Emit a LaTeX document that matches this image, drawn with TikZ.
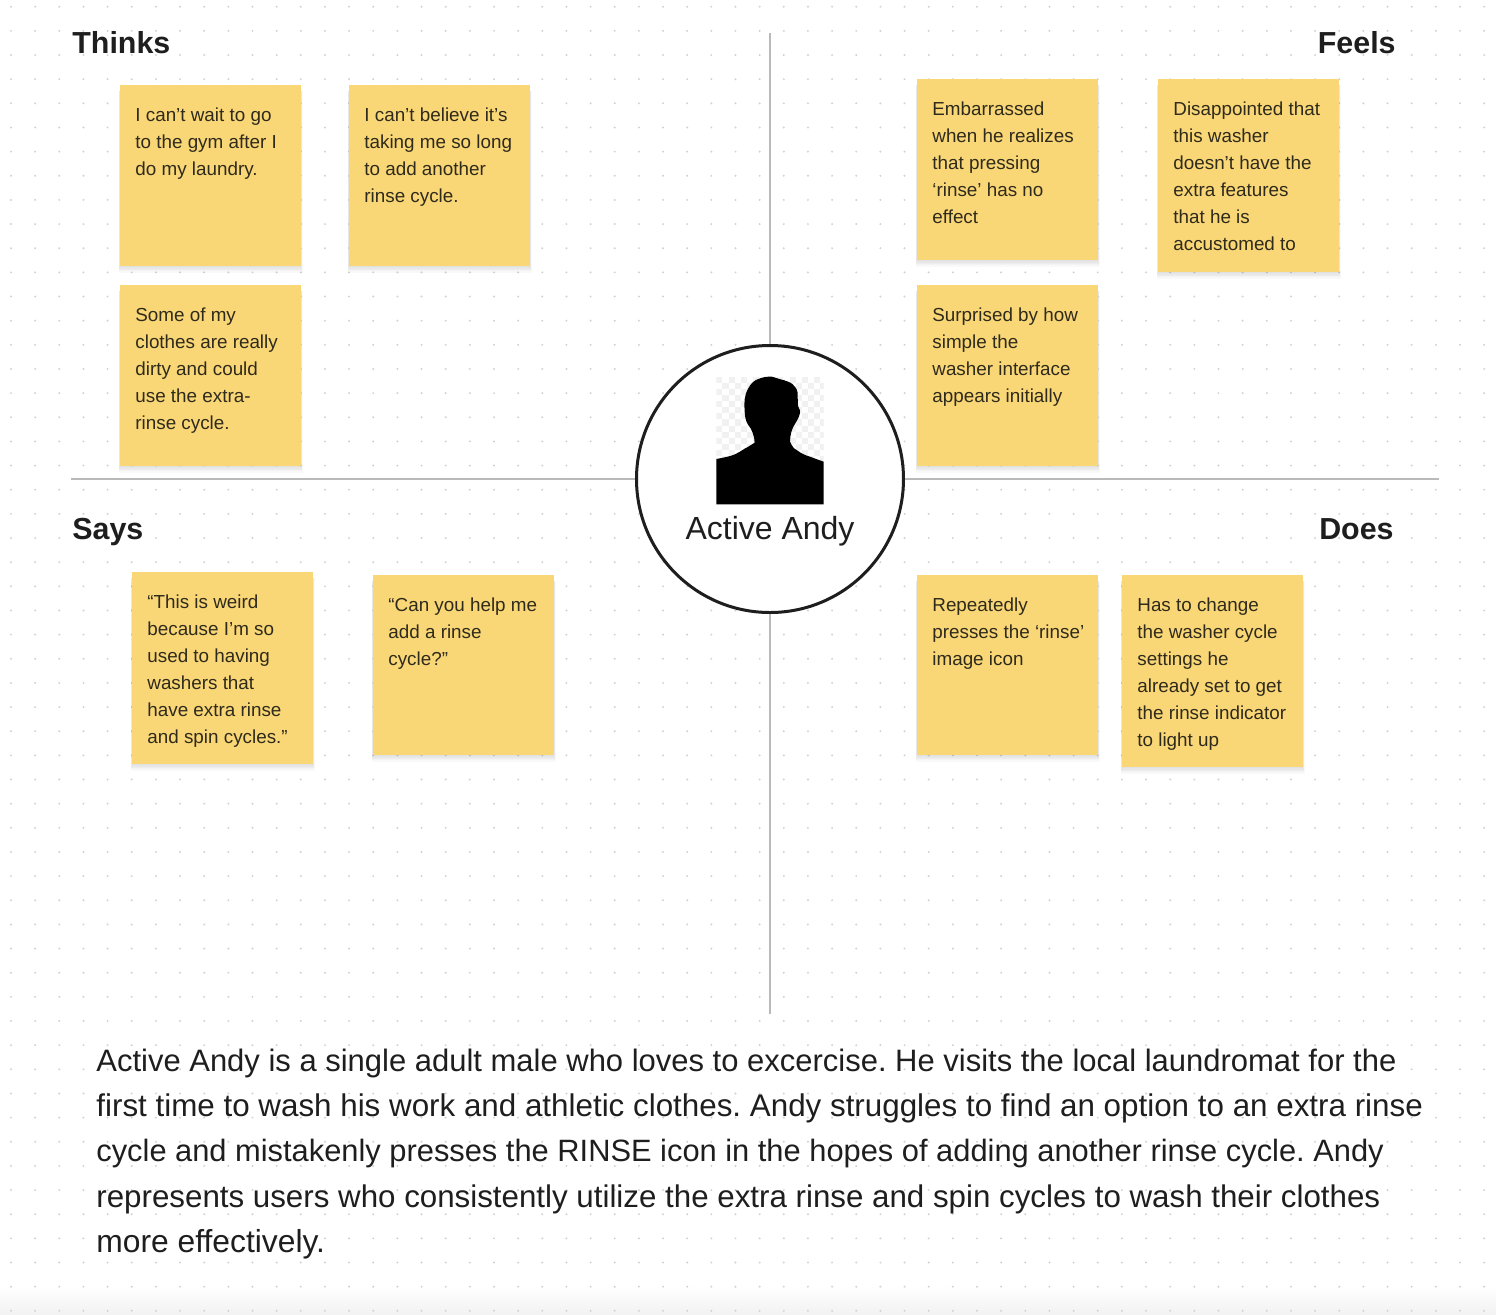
\documentclass[tikz,border=0pt]{standalone}
\usepackage{fontspec}
\setmainfont{Liberation Sans}
\definecolor{ink}{HTML}{1E1E1E}
\definecolor{stickyink}{HTML}{2E2A1C}
\definecolor{stickyfill}{HTML}{FAD776}
\definecolor{axisline}{HTML}{B9B9B9}
\definecolor{griddot}{HTML}{D2D2D2}
\definecolor{checker}{HTML}{F1F1F1}
\tikzset{
  stickybox/.style={draw=none,fill=stickyfill,inner sep=0pt,minimum width=90.5pt,anchor=north west},
  softshadow/.style={fill=black,opacity=.022},
  stickytext/.style={inner sep=0pt,anchor=north west,align=left,text=stickyink,
    font=\fontsize{9.42}{13.55}\selectfont},
  heading/.style={inner sep=0pt,text=ink,font=\fontsize{15.2}{18}\selectfont\bfseries},
  axis/.style={draw=axisline,line width=1.4pt},
  bodyline/.style={inner sep=0pt,anchor=base west,text=ink},
}
\newcommand{\sticky}[5]{%
  \foreach \s in {1,...,5}{
    \fill[softshadow] ({#2-\s*0.3},{#3+6}) rectangle ({#2+181+\s*0.3},{#3+#4+\s*1.3});
  }
  \node[stickybox,minimum height=#4*0.5pt] (#1) at (#2,#3) {};
  \node[stickytext] (#1text) at ([xshift=7.5pt,yshift=-8pt]#1.north west) {\rule{0pt}{10pt}#5};
}
\newcommand{\bodysize}[1]{\fontsize{#1}{18}\selectfont}
\frenchspacing
\begin{document}
\begin{tikzpicture}[x=0.5pt,y=-0.5pt]
\useasboundingbox (0,0) rectangle (1496,1314);
\fill[white] (0,0) rectangle (1496,1314);
\shade[top color=white,bottom color=black!5] (0,1285) rectangle (1496,1314);
\foreach \i in {0,...,61}{\foreach \j in {0,...,54}{
  \fill[griddot] ({11+24.15*\i},{6.7+24.15*\j}) circle (0.55pt);
}}
% circle and axes
\node[circle,draw=ink,line width=1.5pt,fill=white,minimum size=133.5pt,inner sep=0pt] (hub) at (770,479) {};
\coordinate (top) at (770,33);
\coordinate (bottom) at (770,1014);
\coordinate (left) at (71,479);
\coordinate (right) at (1439,479);
\draw[axis] (hub.north) -- (top);
\draw[axis] (hub.south) -- (bottom);
\draw[axis] (hub.west) -- (left);
\draw[axis] (hub.east) -- (right);
% portrait
\begin{scope}
\clip (716.3,376.7) rectangle (823.7,470);
\foreach \i in {0,...,17}{\foreach \j in {0,...,15}{
  \pgfmathparse{int(mod(\i+\j,2))}
  \ifnum\pgfmathresult=0
    \fill[checker] ({716.3+6.1*\i},{376.7+6.1*\j}) rectangle +(6.1,6.1);
  \fi
}}
\end{scope}
\fill[black] (716.3,504.3) -- (716.3,459)
  .. controls (724,457.5) and (730,456.5) .. (735,454.3)
  .. controls (741,451.5) and (745,448) .. (748.3,446.7)
  -- (754.7,442.7)
  .. controls (754.5,437) and (752,429) .. (748.3,425)
  .. controls (745.5,421) and (744.8,416) .. (744.6,410)
  .. controls (744.2,402) and (744,396) .. (748.3,388.3)
  .. controls (751,383) and (755,380) .. (758.3,379)
  .. controls (763,377) and (768,376.4) .. (771.7,376.7)
  .. controls (776,377.5) and (780,379.5) .. (783.3,380)
  .. controls (788,381.5) and (792,383) .. (793.3,385)
  .. controls (796.5,388) and (797.8,391) .. (797.7,395)
  .. controls (797.8,400) and (797.6,404) .. (798.3,406.7)
  .. controls (800,409) and (800.3,412) .. (800,413)
  .. controls (799,418) and (796.5,421) .. (795,424)
  .. controls (792,428) and (790,435) .. (790,441.7)
  .. controls (792,446) and (794,449) .. (796.7,450)
  .. controls (801,453.5) and (806,455.5) .. (810,456.7)
  -- (823.7,461.7) -- (823.7,504.3) -- cycle;
\node[inner sep=0pt,anchor=base,text=ink,font=\fontsize{16}{18}\selectfont] (name) at (770,539) {Active Andy};
% headings
\node[heading,anchor=base west] (thinks) at (72,53) {Thinks};
\node[heading,anchor=base east] (feels) at (1396,53) {Feels};
\node[heading,anchor=base west] (says) at (72,539) {Says};
\node[heading,anchor=base east] (does) at (1394,539) {Does};
% stickies
\sticky{ta}{120}{85}{181}{I can’t wait to go\\to the gym after I\\do my laundry.}
\sticky{tb}{349}{85}{181}{I can’t believe it’s\\taking me so long\\to add another\\rinse cycle.}
\sticky{tc}{120}{285}{181}{Some of my\\clothes are really\\dirty and could\\use the extra-\\rinse cycle.}
\sticky{fa}{917}{79}{181}{Embarrassed\\when he realizes\\that pressing\\‘rinse’ has no\\effect}
\sticky{fb}{1158}{79}{193}{Disappointed that\\this washer\\doesn’t have the\\extra features\\that he is\\accustomed to}
\sticky{fc}{917}{285}{181}{Surprised by how\\simple the\\washer interface\\appears initially}
\sticky{sa}{132}{572}{192}{“This is weird\\because I’m so\\used to having\\washers that\\have extra rinse\\and spin cycles.”}
\sticky{sb}{373}{575}{180}{“Can you help me\\add a rinse\\cycle?”}
\sticky{da}{917}{575}{180}{Repeatedly\\presses the ‘rinse’\\image icon}
\sticky{db}{1122}{575}{192}{Has to change\\the washer cycle\\settings he\\already set to get\\the rinse indicator\\to light up}
% body
\node[bodyline,font=\bodysize{15.49}] (la) at (96,1071) {Active Andy is a single adult male who loves to excercise. He visits the local laundromat for the};
\node[bodyline,font=\bodysize{15.68}] (lb) at (96,1116) {first time to wash his work and athletic clothes. Andy struggles to find an option to an extra rinse};
\node[bodyline,font=\bodysize{15.42}] (lc) at (96,1161) {cycle and mistakenly presses the RINSE icon in the hopes of adding another rinse cycle. Andy};
\node[bodyline,font=\bodysize{15.65}] (ld) at (96,1207) {represents users who consistently utilize the extra rinse and spin cycles to wash their clothes};
\node[bodyline,font=\bodysize{15.9}] (le) at (96,1252) {more effectively.};
\end{tikzpicture}
\end{document}
